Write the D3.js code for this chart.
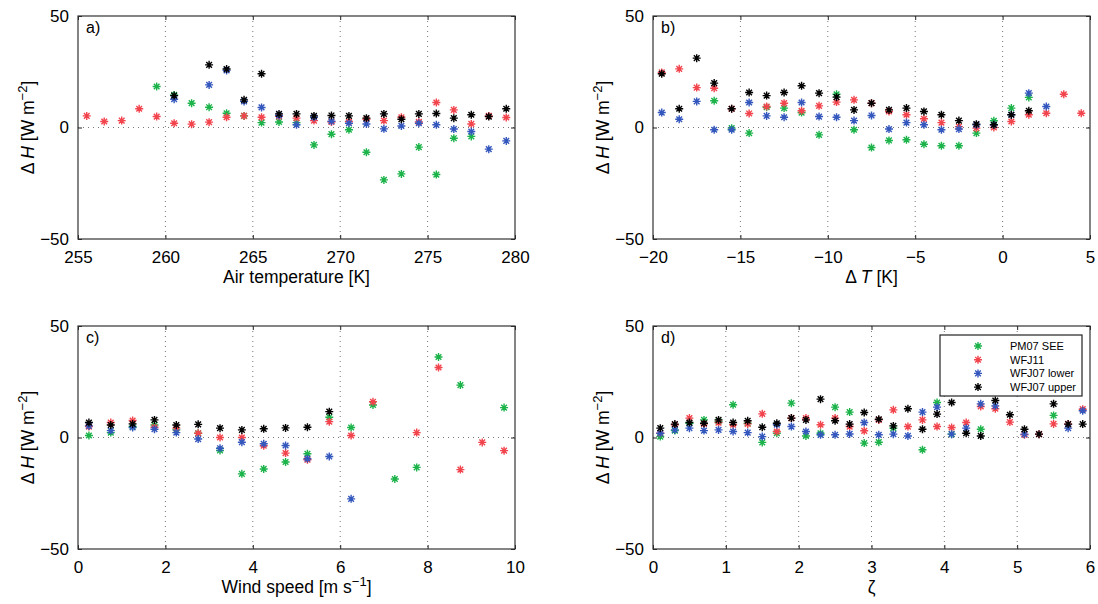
<!DOCTYPE html>
<html>
<head>
<meta charset="utf-8">
<script src="https://cdn.jsdelivr.net/npm/d3@7"></script>
<style>
  body { margin: 0; background: #fff; }
  text { font-family: "Liberation Sans", Arial, sans-serif; fill: #000; }
</style>
</head>
<body>
<svg id="chart" width="1098" height="604"></svg>
<script>
// series names, legend order = draw order
var seriesNames = ["PM07 SEE", "WFJ11", "WFJ07 lower", "WFJ07 upper"];
var seriesColors = ["#1db34b", "#f2444d", "#3457bd", "#000000"];

// a) air temperature bins [K]
var airT = [255.5, 256.5, 257.5, 258.5, 259.5, 260.5, 261.5, 262.5, 263.5, 264.5, 265.5, 266.5, 267.5,
  268.5, 269.5, 270.5, 271.5, 272.5, 273.5, 274.5, 275.5, 276.5, 277.5, 278.5, 279.5];
var airT_pm07 = [null, null, null, null, 18.4, 14.6, 10.9, 9.1, 6.4, 5.2, 2.2, 2.5, 2.2,
  -7.8, -3.0, -1.0, -11.1, -23.5, -20.8, -8.8, -21.1, -4.8, -4.0, null, null];
var airT_wfj11 = [5.2, 2.7, 3.1, 8.4, 4.9, 1.9, 1.5, 2.4, 4.6, 5.2, 4.6, 5.0, 4.2,
  3.1, 2.5, 2.7, 3.7, 3.1, 4.6, 2.5, 11.2, 7.9, 1.6, 5.2, 4.5];
var airT_lower = [null, null, null, null, null, 12.7, null, 19.1, 25.6, 11.7, 9.0, 5.4, 1.2,
  4.6, 2.8, 1.9, 1.6, -0.6, 0.7, 1.9, 1.2, -0.7, -1.8, -9.7, -6.0];
var airT_upper = [null, null, null, null, null, 14.3, null, 28.1, 26.2, 12.4, 24.1, 6.1, 6.1,
  5.2, 5.4, 5.2, 4.2, 6.1, 3.7, 6.1, 6.3, 4.2, 5.7, 4.9, 8.4];

// b) surface-air temperature difference bins [K]
var dT = [-19.5, -18.5, -17.5, -16.5, -15.5, -14.5, -13.5, -12.5, -11.5, -10.5, -9.5, -8.5, -7.5,
  -6.5, -5.5, -4.5, -3.5, -2.5, -1.5, -0.5, 0.5, 1.5, 2.5, 3.5, 4.5];
var dT_pm07 = [null, null, null, 12.0, -0.3, -2.5, 9.1, 8.7, 6.7, -3.3, 14.9, -1.0, -9.0,
  -5.8, -5.5, -7.5, -8.2, -8.2, -2.5, 3.0, 8.7, 13.5, null, null, null];
var dT_wfj11 = [24.7, 26.3, 17.9, 17.6, 8.4, 6.3, 9.4, 10.9, 7.5, 9.7, 11.4, 12.4, 10.9,
  7.2, 5.7, 3.9, 2.2, 0.4, -0.3, 0, 2.7, 5.7, 6.4, 14.9, 6.4];
var dT_lower = [6.7, 3.7, 11.7, -1.0, -1.0, 11.2, 5.2, 4.6, 11.2, 4.9, 4.6, 3.1, 5.4,
  -0.7, 2.2, 1.2, -1.0, -0.7, 1.2, 1.2, 5.7, 15.4, 9.4, null, null];
var dT_upper = [24.1, 8.4, 31.1, 19.9, 8.4, 15.7, 14.3, 15.7, 18.7, 15.4, 13.6, 7.9, 10.9,
  7.9, 8.7, 7.2, 5.7, 3.1, 1.5, 1.2, 5.7, 7.5, null, null, null];

// c) wind speed bins [m/s]
var wind = [0.25, 0.75, 1.25, 1.75, 2.25, 2.75, 3.25, 3.75, 4.25, 4.75,
  5.25, 5.75, 6.25, 6.75, 7.25, 7.75, 8.25, 8.75, 9.25, 9.75];
var wind_pm07 = [0.9, 2.2, 4.9, 5.6, 3.4, 1.9, -5.8, -16.3, -14.1, -11.0,
  -7.3, 9.1, 4.5, 14.6, -18.6, -13.4, 36.1, 23.5, null, 13.4];
var wind_wfj11 = [4.9, 6.7, 7.6, 4.6, 4.2, 1.9, 0, 0, -3.7, -7.0,
  -10.0, 7.1, 0.9, 16.0, null, 2.2, 31.4, -14.4, -2.2, -5.9];
var wind_lower = [5.2, 3.1, 4.5, 3.7, 2.2, -0.7, -4.8, -2.1, -2.8, -3.6,
  -9.5, -8.5, -27.5, null, null, null, null, null, null, null];
var wind_upper = [6.7, 5.6, 6.1, 7.9, 5.6, 5.9, 4.2, 3.4, 3.9, 4.3,
  4.6, 11.6, null, null, null, null, null, null, null, null];

// d) stability parameter zeta bins
var zeta = [0.1, 0.3, 0.5, 0.7, 0.9, 1.1, 1.3, 1.5, 1.7, 1.9, 2.1, 2.3, 2.5, 2.7, 2.9,
  3.1, 3.3, 3.5, 3.7, 3.9, 4.1, 4.3, 4.5, 4.7, 4.9, 5.1, 5.3, 5.5, 5.7, 5.9];
var zeta_pm07 = [0.4, 3.1, 6.4, 7.9, 7.2, 14.7, 6.4, -2.2, 1.9, 15.4, 0.7, 1.9, 13.6, 11.4, -2.5,
  -2.1, 4.2, null, -5.5, 15.7, 1.5, null, 3.7, null, null, null, null, 9.9, null, null];
var zeta_wfj11 = [1.9, 5.7, 8.7, 6.1, 6.7, 5.7, 6.1, 10.6, 2.7, 8.7, 8.7, 5.7, 8.7, 4.9, 3.0,
  7.9, 12.4, 4.9, 7.9, 4.9, 4.5, 6.7, 13.9, 12.9, 6.9, 1.2, 1.5, 6.1, 6.0, 12.7];
var zeta_lower = [1.9, 3.4, 4.2, 3.1, 3.4, 2.7, 2.2, 0.4, 5.7, 4.9, 2.7, 1.2, 1.2, 1.6, 6.7,
  1.2, 1.5, 0.7, 11.4, 13.6, 1.5, 4.2, 15.1, 14.2, null, 1.5, null, null, 4.2, 12.0];
var zeta_upper = [4.2, 6.0, 6.7, 6.4, 7.9, 6.7, 7.5, 4.6, 6.4, 8.7, 7.9, 17.2, 7.5, 6.0, 11.2,
  8.2, 5.2, 12.9, 3.7, 10.5, 15.7, 1.9, 0.7, 16.6, 10.2, 3.7, 1.5, 15.1, 6.0, 6.0];

var yTicks = [-50, 0, 50];

var panels = [
  { label: "a)", x: airT, ys: [airT_pm07, airT_wfj11, airT_lower, airT_upper],
    domain: [255, 280], ticks: [255, 260, 265, 270, 275, 280], xlab: "air",
    left: 78, top: 16 },
  { label: "b)", x: dT, ys: [dT_pm07, dT_wfj11, dT_lower, dT_upper],
    domain: [-20, 5], ticks: [-20, -15, -10, -5, 0, 5], xlab: "dT",
    left: 653, top: 16 },
  { label: "c)", x: wind, ys: [wind_pm07, wind_wfj11, wind_lower, wind_upper],
    domain: [0, 10], ticks: [0, 2, 4, 6, 8, 10], xlab: "wind",
    left: 78, top: 326 },
  { label: "d)", x: zeta, ys: [zeta_pm07, zeta_wfj11, zeta_lower, zeta_upper],
    domain: [0, 6], ticks: [0, 1, 2, 3, 4, 5, 6], xlab: "zeta",
    left: 653, top: 326, legend: true }
];

var pw = 437, ph = 223;
var tickLen = 4;
var fontTick = 17, fontLab = 17.5;

var svg = d3.select("#chart");

function fmt(v) {
  return v < 0 ? "\u2212" + Math.abs(v) : String(v);
}

// asterisk marker: plus + cross
function star(r) {
  var a = r * 0.7071;
  return "M" + (-r) + ",0H" + r + "M0," + (-r) + "V" + r +
    "M" + (-a) + "," + (-a) + "L" + a + "," + a +
    "M" + (-a) + "," + a + "L" + a + "," + (-a);
}

function yLabel(g, x, y) {
  var t = g.append("text")
    .attr("transform", "translate(" + x + "," + y + ") rotate(-90)")
    .attr("text-anchor", "middle")
    .style("font-size", fontLab + "px");
  t.append("tspan").text("\u0394 ");
  t.append("tspan").style("font-style", "italic").text("H");
  t.append("tspan").text(" [W m");
  t.append("tspan").attr("dy", -7).style("font-size", "13px").text("\u22122");
  t.append("tspan").attr("dy", 7).text("]");
}

function xLabel(g, kind, x, y) {
  var t = g.append("text")
    .attr("x", x).attr("y", y)
    .attr("text-anchor", "middle")
    .style("font-size", fontLab + "px");
  if (kind == "air") {
    t.text("Air temperature [K]");
  } else if (kind == "dT") {
    t.append("tspan").text("\u0394 ");
    t.append("tspan").style("font-style", "italic").text("T");
    t.append("tspan").text("  [K]");
  } else if (kind == "wind") {
    t.append("tspan").text("Wind speed [m s");
    t.append("tspan").attr("dy", -7).style("font-size", "13px").text("\u22121");
    t.append("tspan").attr("dy", 7).text("]");
  } else {
    t.text("\u03B6");
  }
}

panels.forEach(function(p) {
  var g = svg.append("g").attr("transform", "translate(" + p.left + "," + p.top + ")");
  var x = d3.scaleLinear().domain(p.domain).range([0, pw]);
  var y = d3.scaleLinear().domain([-50, 50]).range([ph, 0]);

  // dotted grid: inner x ticks and zero line
  g.selectAll(".vgrid")
    .data(p.ticks.slice(1, -1))
    .enter().append("line")
    .attr("x1", x).attr("x2", x)
    .attr("y1", 0).attr("y2", ph)
    .attr("stroke", "#777").attr("stroke-width", 1)
    .attr("stroke-dasharray", "1,4");
  g.append("line")
    .attr("x1", 0).attr("x2", pw)
    .attr("y1", y(0)).attr("y2", y(0))
    .attr("stroke", "#777").attr("stroke-width", 1)
    .attr("stroke-dasharray", "1,4");

  // markers
  p.ys.forEach(function(vals, si) {
    var pts = vals.map(function(v, i) { return { x: p.x[i], y: v }; })
      .filter(function(d) { return d.y !== null; });
    g.selectAll(".s" + si)
      .data(pts)
      .enter().append("path")
      .attr("d", star(4))
      .attr("transform", function(d) { return "translate(" + x(d.x) + "," + y(d.y) + ")"; })
      .attr("fill", "none")
      .attr("stroke", seriesColors[si])
      .attr("stroke-width", 1.4);
  });

  // axes with inward ticks on all four sides
  var ax = g.append("g").attr("transform", "translate(0," + ph + ")")
    .call(d3.axisBottom(x).tickValues(p.ticks).tickSizeInner(-tickLen).tickSizeOuter(0)
      .tickPadding(tickLen + 8).tickFormat(fmt));
  var axTop = g.append("g")
    .call(d3.axisTop(x).tickValues(p.ticks).tickSizeInner(-tickLen).tickSizeOuter(0).tickFormat(""));
  var ay = g.append("g")
    .call(d3.axisLeft(y).tickValues(yTicks).tickSizeInner(-tickLen).tickSizeOuter(0)
      .tickPadding(tickLen + 5).tickFormat(fmt));
  var ayR = g.append("g").attr("transform", "translate(" + pw + ",0)")
    .call(d3.axisRight(y).tickValues(yTicks).tickSizeInner(-tickLen).tickSizeOuter(0).tickFormat(""));

  [ax, axTop, ay, ayR].forEach(function(a) {
    a.select(".domain").remove();
    a.selectAll("line").attr("stroke", "#222");
    a.selectAll("text").style("font-size", fontTick + "px")
      .style("font-family", "'Liberation Sans', Arial, sans-serif").attr("fill", "#000");
  });

  // frame
  g.append("rect")
    .attr("width", pw).attr("height", ph)
    .attr("fill", "none").attr("stroke", "#333").attr("stroke-width", 1.2);

  g.append("text")
    .attr("x", 8).attr("y", 17)
    .style("font-size", "16px")
    .text(p.label);

  yLabel(g, -44, ph / 2);
  xLabel(g, p.xlab, pw / 2, ph + 44);

  if (p.legend) {
    var lg = g.append("g").attr("transform", "translate(" + (940 - p.left) + "," + (335 - p.top) + ")");
    lg.append("rect")
      .attr("width", 142).attr("height", 61)
      .attr("fill", "#fff").attr("stroke", "#222").attr("stroke-width", 1.2);
    var items = lg.selectAll(".item")
      .data(seriesNames)
      .enter().append("g")
      .attr("transform", function(d, i) { return "translate(0," + (11 + i * 13.7) + ")"; });
    items.append("path")
      .attr("d", star(4))
      .attr("transform", "translate(38,0)")
      .attr("fill", "none")
      .attr("stroke", function(d, i) { return seriesColors[i]; })
      .attr("stroke-width", 1.4);
    items.append("text")
      .attr("x", 70).attr("y", 4)
      .style("font-size", "11px")
      .text(function(d) { return d; });
  }
});
</script>
</body>
</html>
